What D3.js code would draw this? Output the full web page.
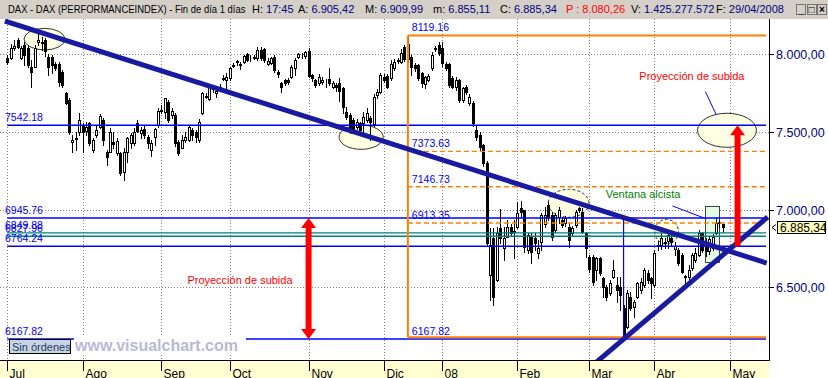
<!DOCTYPE html>
<html>
<head>
<meta charset="utf-8">
<script src="https://cdn.jsdelivr.net/npm/d3@7/dist/d3.min.js"></script>
<style>
  body { margin: 0; background: #fff; }
  svg { display: block; font-family: "Liberation Sans", Arial, sans-serif; }
</style>
</head>
<body>
<div id="canvas"></div>
<script>
// DAX daily bars, 2 Jul 2007 .. 29 Apr 2008 (one entry per trading day)
var opens = [
  7972,7972,8037,8090,7976,8058,8037,7918,7918,8080,8075,8090,7983,7980,7934,7934,7886,7747,7704,7432,7455,7500,
  7543,7505,7554,7383,7479,7533,7576,7372,7372,7436,7364,7363,7243,7372,7426,7426,7554,7490,7518,7468,7380,7468,7543,
  7636,7629,7694,7608,7608,7436,7398,7447,7447,7511,7496,7447,7619,7725,7711,7782,7747,7790,7841,7833,
  7844,7925,7950,7936,7950,7998,7972,7983,7972,8026,8032,7934,7940,7983,7886,7811,7833,7833,7850,7908,7979,7990,7985,
  8020,7865,7830,7811,7818,7822,7840,7790,7800,7815,7780,7630,7608,7576,7533,7554,7554,7576,7587,7550,7736,7758,
  7850,7860,7844,7910,7955,7950,8045,7965,7983,7930,7929,7876,7810,7833,7908,8035,8058,
  8040,7934,7934,7844,7790,7833,7705,7790,7683,7683,7511,7479,7415,7297,6579,6815,6547,6879,6751,6825,6890,6860,
  6890,7012,6997,6740,6825,6815,6718,6793,6910,7029,6965,6868,6954,6933,6911,6890,6847,6900,7008,6986,6847,
  6697,6697,6611,6686,6558,6504,6461,6568,6515,6504,6365,6247,6439,6375,6439,6483,6515,6590,6558,
  6515,6765,6772,6790,6800,6815,6745,6740,6708,6565,6568,6622,6675,6708,6847,6790,6735,6755,6850,6922,6905.42
];
var highs = [
  7994,8062,8090,8103,8051,8077,8058,7961,8058,8143,8111,8101,8000,7995,7949,7950,7895,7756,7717,7479,7498,7621,
  7556,7565,7565,7460,7543,7614,7588,7383,7524,7500,7460,7370,7396,7468,7492,7524,7576,7533,7540,7480,7447,7526,7651,
  7672,7719,7704,7651,7619,7447,7479,7500,7543,7522,7511,7580,7758,7747,7801,7801,7779,7805,7865,7876,
  7918,7940,7961,7950,7994,8004,7994,7994,8047,8047,8037,7972,7983,7994,7897,7822,7839,7845,7929,7972,8004,8005,8020,
  8040,7870,7840,7870,7850,7840,7910,7825,7815,7845,7790,7660,7620,7590,7580,7565,7625,7650,7600,7740,7775,7880,
  7870,7870,7960,7965,7975,8030,8060,8119.16,7995,7945,7935,7885,7860,7870,8010,8050,8080,
  8075,7950,7945,7860,7850,7840,7790,7800,7740,7700,7540,7500,7420,7310,6881,6879,6890,7001,6890,6933,6910,6933,
  7050,7055,7000,6847,6847,6847,6804,6976,7018,7050,6986,6976,7018,6954,6960,6911,6895,6997,7018,7008,6857,
  6710,6708,6697,6697,6568,6515,6547,6675,6568,6568,6386,6483,6472,6418,6536,6558,6622,6611,6568,
  6740,6800,6850,6815,6857,6835,6790,6751,6718,6579,6643,6718,6751,6868,6857,6815,6825,6840,6944,6933,6909.99
];
var lows = [
  7934,7966,8026,8039,7966,7929,7916,7788,7916,8058,8026,7989,7865,7880,7897,7794,7788,7679,7486,7370,7383,7479,
  7370,7479,7415,7370,7466,7524,7415,7286,7370,7396,7350,7222,7190,7308,7396,7415,7498,7460,7460,7396,7346,7415,7533,
  7619,7587,7565,7587,7410,7350,7394,7436,7440,7447,7436,7436,7612,7715,7704,7758,7726,7769,7833,7769,
  7833,7918,7929,7901,7940,7955,7955,7966,7961,7961,7950,7929,7934,7886,7854,7758,7801,7805,7844,7865,7972,7975,7975,
  7850,7825,7790,7800,7805,7790,7800,7780,7760,7700,7620,7580,7490,7500,7520,7490,7475,7560,7447,7540,7720,7750,
  7820,7780,7830,7900,7940,7945,7955,7950,7865,7890,7835,7790,7780,7825,7900,8020,7995,
  7925,7900,7790,7780,7770,7690,7690,7740,7670,7540,7450,7380,7280,6770,6418,6386,6540,6783,6675,6825,6830,6686,
  6879,6954,6729,6718,6654,6740,6686,6740,6890,6933,6804,6857,6911,6890,6895,6761,6830,6890,6985,6847,6697,
  6598,6515,6547,6579,6439,6418,6450,6560,6407,6354,6167.82,6236,6354,6311,6430,6461,6504,6526,6429,
  6504,6740,6745,6750,6751,6770,6710,6643,6590,6526,6547,6611,6665,6701,6727,6700,6715,6740,6840,6890,6855.11
];
var closes = [
  7950,8037,8053,8047,8041,7994,7930,7886,8039,8090,8068,8019,7918,7930,7908,7818,7801,7683,7497,7447,7458,7576,
  7500,7532,7426,7447,7511,7603,7447,7340,7500,7420,7440,7235,7372,7458,7479,7500,7505,7511,7479,7426,7430,7518,7633,
  7643,7715,7576,7633,7426,7361,7447,7468,7533,7479,7468,7565,7747,7730,7790,7777,7764,7780,7846,7852,
  7912,7932,7955,7930,7989,7961,7975,7972,8026,7972,7961,7955,7972,7897,7869,7786,7811,7818,7918,7961,7998,7985,8010,
  7860,7846,7800,7854,7835,7818,7811,7815,7785,7765,7657,7597,7500,7515,7565,7511,7597,7619,7565,7726,7758,7865,
  7835,7790,7934,7950,7960,8004,7965,8065,7918,7910,7844,7811,7850,7860,7994,8040,8004,
  7940,7908,7801,7790,7833,7704,7780,7758,7726,7554,7466,7402,7299,6783,6772,6439,6850,6815,6815,6890,6847,6855,
  6976,6986,6761,6836,6729,6783,6751,6965,6965,6954,6825,6965,6997,6900,6943,6804,6879,6986,6997,6857,6751,
  6615,6536,6686,6590,6504,6439,6526,6611,6483,6450,6182,6461,6365,6407,6526,6536,6611,6547,6526,
  6718,6772,6820,6785,6836,6790,6765,6654,6600,6572,6611,6708,6718,6847,6740,6735,6810,6825,6915,6911,6885.34
];

// month axis: label and index of first trading day
var monthLabels = ["Jul", "Ago", "Sep", "Oct", "Nov", "Dic", "08", "Feb", "Mar", "Abr", "May"];
var monthStarts = [0, 22, 45, 65, 88, 110, 127, 149, 170, 189, 211];
var priceTicks = [6500, 7000, 7500, 8000];

// drawn objects (index, price)
var blueLevels = [7542.18, 6945.76, 6764.24, 6167.82];
var tealLevels = [6849.88, 6827.96];
var fibLevels = [8119.16, 7373.63, 7146.73, 6913.35, 6167.82];
var fibStart = 117;
var trendDown = [[-0.7, 8212], [221.8, 6656]];
var trendUp = [[171.6, 6010], [222.1, 6952]];
var arrowLeft = [88, 6167.82, 6945.76];
var arrowRight = [213.3, 6764.24, 7542.18];
var measureLine = [180, 6167.82, 6945.76];
var ellipses = [
  [4.9, 16.85, 8165, 8026],
  [96.9, 109.8, 7543, 7387],
  [158, 169.9, 7130, 6950],
  [189.1, 196, 6937, 6778],
  [201.6, 218.8, 7619, 7400]
];
var windowBox = [203.7, 207.9, 7023, 6661];
var notes = [
  ["Proyección de subida", 184.6, 7830],
  ["Proyección de subida", 52.6, 6520],
  ["Ventana alcista", 174.8, 7071]
];
var pointers = [
  [[203.9, 7758], [207.1, 7608]],
  [[194.3, 7023], [203.7, 6944]]
];

var W = 828, H = 378;
var plotRight = 769, plotTop = 19, plotBottom = 360;

var x = d3.scaleLinear().domain([0, 211]).range([7.3, 729.7]);
var y = d3.scaleLinear().domain([6500, 8000]).range([287.3, 54]);
var es = d3.formatLocale({decimal: ",", thousands: ".", grouping: [3], currency: ["", ""]});
var fmt = es.format(",.2f");

var candles = opens.map(function(o, i) {
  return {i: i, o: o, h: highs[i], l: lows[i], c: closes[i]};
});

var svg = d3.select("#canvas").append("svg")
  .attr("width", W)
  .attr("height", H);

svg.append("rect").attr("width", W).attr("height", H).attr("fill", "#fff");

svg.append("defs").append("clipPath").attr("id", "plotClip")
  .append("rect").attr("x", 0).attr("y", plotTop).attr("width", plotRight).attr("height", plotBottom - plotTop);

var plot = svg.append("g").attr("clip-path", "url(#plotClip)");

// dotted grid
plot.selectAll(".hgrid").data(priceTicks).enter().append("line")
  .attr("x1", 0).attr("x2", plotRight)
  .attr("y1", function(d) { return Math.round(y(d)) + 0.5; })
  .attr("y2", function(d) { return Math.round(y(d)) + 0.5; })
  .attr("stroke", "#808080").attr("stroke-dasharray", "1,2")
  .attr("shape-rendering", "crispEdges");
plot.selectAll(".vgrid").data(monthStarts).enter().append("line")
  .attr("x1", function(d) { return Math.round(x(d)) + 0.5; })
  .attr("x2", function(d) { return Math.round(x(d)) + 0.5; })
  .attr("y1", plotTop).attr("y2", plotBottom)
  .attr("stroke", "#808080").attr("stroke-dasharray", "1,2")
  .attr("shape-rendering", "crispEdges");

// ellipses and window box (under the bars)
plot.selectAll(".ell").data(ellipses).enter().append("ellipse")
  .attr("cx", function(d) { return (x(d[0]) + x(d[1])) / 2; })
  .attr("cy", function(d) { return (y(d[2]) + y(d[3])) / 2; })
  .attr("rx", function(d) { return (x(d[1]) - x(d[0])) / 2; })
  .attr("ry", function(d) { return (y(d[3]) - y(d[2])) / 2; })
  .attr("fill", "#ffffe1")
  .attr("stroke", "#000")
  .attr("stroke-width", 0.8)
  .attr("stroke-dasharray", function(d, i) { return (i == 2 || i == 3) ? "3,2" : null; });

plot.append("rect")
  .attr("x", Math.round(x(windowBox[0])) + 0.5)
  .attr("y", Math.round(y(windowBox[2])) + 0.5)
  .attr("width", Math.round(x(windowBox[1]) - x(windowBox[0])))
  .attr("height", Math.round(y(windowBox[3]) - y(windowBox[2])))
  .attr("fill", "#e2fbe2").attr("stroke", "#404040")
  .attr("shape-rendering", "crispEdges");

// candlesticks
var bar = plot.append("g").attr("shape-rendering", "crispEdges")
  .selectAll("g").data(candles).enter().append("g");
bar.append("line")
  .attr("x1", function(d) { return Math.round(x(d.i)) + 0.5; })
  .attr("x2", function(d) { return Math.round(x(d.i)) + 0.5; })
  .attr("y1", function(d) { return Math.round(y(d.h)); })
  .attr("y2", function(d) { return Math.round(y(d.l)) + 1; })
  .attr("stroke", "#000");
bar.append("rect")
  .attr("x", function(d) { return Math.round(x(d.i)) - 0.5; })
  .attr("y", function(d) { return Math.round(y(Math.max(d.o, d.c))) + 0.5; })
  .attr("width", 2)
  .attr("height", function(d) {
    return Math.round(y(Math.min(d.o, d.c))) - Math.round(y(Math.max(d.o, d.c)));
  })
  .attr("fill", function(d) { return d.c >= d.o ? "#fff" : "#000"; })
  .attr("stroke", "#000");

// horizontal levels
var lineEnd = plotRight - 3;
plot.selectAll(".blv").data(blueLevels).enter().append("line")
  .attr("x1", x(0)).attr("x2", lineEnd)
  .attr("y1", function(d) { return y(d); }).attr("y2", function(d) { return y(d); })
  .attr("stroke", "#0000ff").attr("stroke-width", 1.4);
plot.selectAll(".tlv").data(tealLevels).enter().append("line")
  .attr("x1", x(0)).attr("x2", lineEnd)
  .attr("y1", function(d) { return y(d); }).attr("y2", function(d) { return y(d); })
  .attr("stroke", "#008080").attr("stroke-width", 1.4);
plot.selectAll(".fib").data(fibLevels).enter().append("line")
  .attr("x1", x(fibStart)).attr("x2", lineEnd)
  .attr("y1", function(d, i) { return y(d) - (i == fibLevels.length - 1 ? 1.6 : 0); })
  .attr("y2", function(d, i) { return y(d) - (i == fibLevels.length - 1 ? 1.6 : 0); })
  .attr("stroke", "#ff8000")
  .attr("stroke-width", function(d, i) { return (i == 0 || i == fibLevels.length - 1) ? 2 : 1.4; })
  .attr("stroke-dasharray", function(d, i) { return (i == 0 || i == fibLevels.length - 1) ? null : "5,3"; });
plot.append("line")
  .attr("x1", x(fibStart)).attr("x2", x(fibStart))
  .attr("y1", y(fibLevels[0])).attr("y2", y(fibLevels[fibLevels.length - 1]) - 1.6)
  .attr("stroke", "#ff8000").attr("stroke-width", 2);
plot.append("line")
  .attr("x1", x(measureLine[0])).attr("x2", x(measureLine[0]))
  .attr("y1", y(measureLine[2])).attr("y2", y(measureLine[1]))
  .attr("stroke", "#0000ff").attr("stroke-width", 1.2);

// trend lines
[trendDown, trendUp].forEach(function(t) {
  plot.append("line")
    .attr("x1", x(t[0][0])).attr("y1", y(t[0][1]))
    .attr("x2", x(t[1][0])).attr("y2", y(t[1][1]))
    .attr("stroke", "#1a1aa0").attr("stroke-width", 5);
});

// pointer lines
pointers.forEach(function(p) {
  plot.append("line")
    .attr("x1", x(p[0][0])).attr("y1", y(p[0][1]))
    .attr("x2", x(p[1][0])).attr("y2", y(p[1][1]))
    .attr("stroke", "#0000ff").attr("stroke-width", 1);
});

// red projection arrows
function arrow(a, both) {
  var cx = x(a[0]), yTop = y(a[2]), yBot = y(a[1]), hw = 7.5, hh = 10, sw = 3;
  var p = "M" + cx + "," + yTop + "L" + (cx + hw) + "," + (yTop + hh) + "L" + (cx + sw) + "," + (yTop + hh);
  if (both) {
    p += "L" + (cx + sw) + "," + (yBot - hh) + "L" + (cx + hw) + "," + (yBot - hh) + "L" + cx + "," + yBot +
      "L" + (cx - hw) + "," + (yBot - hh) + "L" + (cx - sw) + "," + (yBot - hh);
  } else {
    p += "L" + (cx + sw) + "," + yBot + "L" + (cx - sw) + "," + yBot;
  }
  p += "L" + (cx - sw) + "," + (yTop + hh) + "L" + (cx - hw) + "," + (yTop + hh) + "Z";
  plot.append("path").attr("d", p).attr("fill", "#ff0000");
}
arrow(arrowLeft, true);
arrow(arrowRight, false);

// notes
notes.forEach(function(n, k) {
  plot.append("text")
    .attr("x", x(n[1])).attr("y", y(n[2]))
    .attr("font-size", 11)
    .attr("fill", k == 2 ? "#008000" : "#ff0000")
    .text(n[0]);
});

// level labels
var lbl = svg.append("g").attr("font-size", 10.5).attr("fill", "#0000ff");
blueLevels.concat(tealLevels).forEach(function(v) {
  lbl.append("text").attr("x", 5).attr("y", y(v) - 4).text(v.toFixed(2));
});
fibLevels.forEach(function(v) {
  lbl.append("text").attr("x", x(fibStart) + 4).attr("y", y(v) - 4).text(v.toFixed(2));
});

// watermark and order box
svg.append("rect").attr("x", 74).attr("y", 336).attr("width", 172).attr("height", 17).attr("fill", "#fff");
svg.append("text").attr("x", 75).attr("y", 350.5)
  .attr("font-size", 16).attr("font-weight", "bold").attr("fill", "#b9b9d6")
  .text("www.visualchart.com");
svg.append("rect").attr("x", 9.5).attr("y", 339.5).attr("width", 61).attr("height", 14)
  .attr("fill", "#c8d4e6").attr("stroke", "#000").attr("shape-rendering", "crispEdges");
svg.append("text").attr("x", 12).attr("y", 350.5)
  .attr("font-size", 11).attr("fill", "#1c3c5c").text("Sin órdenes");

// bottom axis band
svg.append("rect").attr("x", 0).attr("y", plotBottom).attr("width", plotRight).attr("height", H - plotBottom)
  .attr("fill", "#ffffd2");
svg.append("line").attr("x1", 0).attr("x2", plotRight + 1)
  .attr("y1", plotBottom + 0.5).attr("y2", plotBottom + 0.5)
  .attr("stroke", "#000").attr("shape-rendering", "crispEdges");
var xa = svg.append("g");
monthStarts.forEach(function(m, k) {
  var px = Math.round(x(m)) + 0.5;
  xa.append("line").attr("x1", px).attr("x2", px).attr("y1", plotBottom).attr("y2", 371)
    .attr("stroke", "#000").attr("shape-rendering", "crispEdges");
  xa.append("text").attr("x", px + 2).attr("y", 377.5).attr("font-size", 12).attr("fill", "#000")
    .text(monthLabels[k]);
});

// right price axis
svg.append("line").attr("x1", plotRight + 0.5).attr("x2", plotRight + 0.5)
  .attr("y1", plotTop).attr("y2", plotBottom)
  .attr("stroke", "#000").attr("shape-rendering", "crispEdges");
var ya = svg.append("g");
priceTicks.forEach(function(v) {
  var py = Math.round(y(v)) + 0.5;
  ya.append("line").attr("x1", plotRight).attr("x2", plotRight + 5).attr("y1", py).attr("y2", py)
    .attr("stroke", "#000").attr("shape-rendering", "crispEdges");
  ya.append("text").attr("x", 776).attr("y", py + 4.5).attr("font-size", 12.5).attr("fill", "#000080")
    .text(fmt(v));
});

// last price tag
var last = closes[closes.length - 1];
var ly = Math.round(y(last)) + 0.5;
svg.append("path").attr("d", "M776," + (ly - 3) + "L772," + ly + "L776," + (ly + 3))
  .attr("fill", "none").attr("stroke", "#000");
svg.append("rect").attr("x", 777.5).attr("y", ly - 6).attr("width", 48).attr("height", 12)
  .attr("fill", "#ffffc0").attr("stroke", "#000").attr("shape-rendering", "crispEdges");
svg.append("text").attr("x", 780).attr("y", ly + 4.5).attr("font-size", 12).attr("fill", "#000")
  .text(fmt(last));

// header bar
svg.append("rect").attr("x", 0).attr("y", 0).attr("width", W).attr("height", plotTop).attr("fill", "#d4d0c8");
var hdr = svg.append("g").attr("font-size", 11);
hdr.append("text").attr("transform", "translate(8,13) scale(0.86,1)")
  .attr("fill", "#000").text("DAX - DAX (PERFORMANCEINDEX) - Fin de día 1 días");
var hdrParts = [
  [252, "H: ", "17:45", "#000080"],
  [298, "A: ", fmt(opens[opens.length - 1]), "#000080"],
  [365, "M: ", fmt(highs[highs.length - 1]), "#000080"],
  [433, "m: ", fmt(lows[lows.length - 1]), "#000080"],
  [500, "C: ", fmt(last), "#000080"],
  [566, "P : ", "8.080,26", "#ff0000"],
  [631, "V: ", "1.425.277.572", "#000080"],
  [716, "F: ", "29/04/2008", "#000080"]
];
hdrParts.forEach(function(p) {
  var t = hdr.append("text").attr("x", p[0]).attr("y", 13);
  t.append("tspan").attr("fill", p[3] == "#ff0000" ? "#ff0000" : "#000").text(p[1]);
  t.append("tspan").attr("fill", p[3]).text(p[2]);
});
// window buttons
["_", "□", "×"].forEach(function(s, k) {
  var bx = 796 + k * 10.5;
  svg.append("rect").attr("x", bx + 0.5).attr("y", 4.5).attr("width", 9).attr("height", 10)
    .attr("fill", "#d4d0c8").attr("stroke", "#606060").attr("stroke-width", 0.8)
    .attr("shape-rendering", "crispEdges");
  svg.append("text").attr("x", bx + 5).attr("y", 13).attr("text-anchor", "middle")
    .attr("font-size", 10).attr("font-weight", "bold").attr("fill", "#000").text(s);
});
</script>
</body>
</html>
